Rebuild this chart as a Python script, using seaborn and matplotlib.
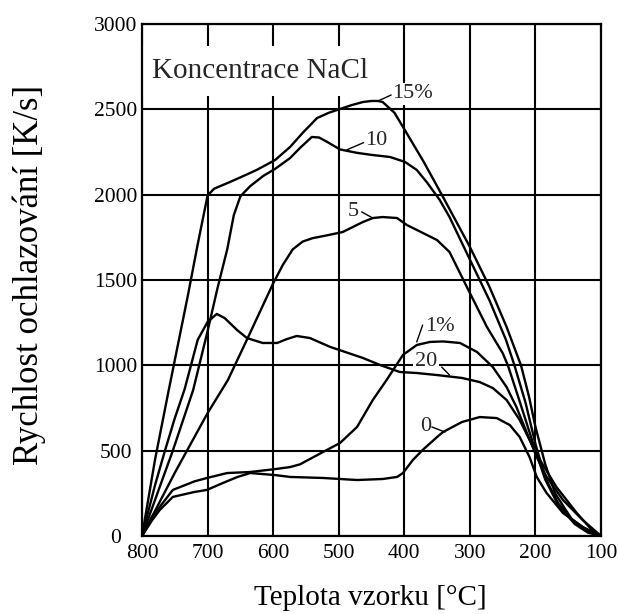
import numpy as np
import pandas as pd
import matplotlib
matplotlib.use("Agg")
import matplotlib.pyplot as plt
import seaborn as sns

# Cooling rate vs. specimen temperature for quenching in NaCl brines
t_15 = [800, 780, 760, 730, 715, 700, 690, 666, 645, 625, 597, 574, 555, 533, 515, 498,
        480, 463, 450, 440, 433, 415, 402, 370, 341, 300, 270, 244, 222, 210, 200, 185,
        170, 145, 120, 100]
v_15 = [0, 450, 840, 1410, 1710, 1995, 2035, 2074, 2110, 2145, 2203, 2280, 2362, 2449, 2480, 2502,
        2525, 2543, 2549, 2549, 2543, 2480, 2397, 2190, 1987, 1694, 1459, 1225, 1000, 820, 640, 420,
        250, 100, 30, 0]

t_10 = [800, 775, 753, 722, 700, 685, 670, 660, 650, 635, 615, 597, 574, 559, 541, 530,
        518, 498, 472, 450, 422, 399, 381, 365, 346, 331, 300, 270, 245, 232, 215, 200,
        185, 165, 140, 120, 100]
v_10 = [0, 266, 500, 855, 1200, 1450, 1680, 1880, 1990, 2050, 2110, 2151, 2215, 2274, 2338, 2335,
        2310, 2265, 2245, 2233, 2221, 2192, 2145, 2070, 1969, 1869, 1620, 1380, 1150, 1000, 780, 540,
        340, 190, 80, 25, 0]

t_5 = [800, 750, 700, 669, 640, 600, 585, 570, 555, 540, 520, 494, 463, 448, 433, 411,
       396, 387, 350, 331, 300, 274, 250, 242, 225, 210, 200, 185, 165, 140, 120, 100]
v_5 = [0, 370, 720, 914, 1150, 1480, 1590, 1680, 1725, 1745, 1760, 1781, 1840, 1863, 1869, 1863,
       1822, 1805, 1734, 1664, 1424, 1225, 1072, 1000, 800, 620, 500, 330, 180, 70, 20, 0]

t_20 = [800, 790, 780, 765, 750, 735, 715, 700, 686, 674, 655, 640, 616, 594, 579, 564,
        544, 513, 480, 463, 437, 407, 381, 350, 312, 285, 265, 244, 224, 209, 193, 168,
        137, 115, 100]
v_20 = [0, 150, 300, 500, 690, 860, 1150, 1254, 1301, 1277, 1207, 1160, 1131, 1131, 1154, 1172,
        1160, 1108, 1065, 1043, 1002, 961, 955, 943, 926, 902, 867, 797, 680, 563, 445, 287,
        135, 40, 0]

t_1 = [800, 785, 773, 753, 720, 701, 670, 635, 597, 574, 559, 524, 498, 472, 448, 427,
       402, 381, 361, 341, 315, 289, 265, 244, 229, 213, 198, 183, 158, 128, 100]
v_1 = [0, 110, 170, 270, 320, 340, 369, 375, 392, 404, 420, 492, 545, 639, 797, 914,
       1061, 1119, 1137, 1140, 1131, 1078, 990, 873, 756, 604, 463, 346, 211, 94, 0]

t_0 = [800, 785, 773, 753, 720, 701, 677, 655, 635, 597, 574, 524, 472, 433, 411, 402,
       387, 372, 350, 341, 312, 285, 259, 239, 224, 209, 198, 183, 158, 128, 100]
v_0 = [0, 90, 152, 229, 258, 270, 310, 345, 369, 357, 346, 340, 328, 334, 346, 369,
       445, 504, 580, 609, 668, 697, 691, 650, 580, 463, 346, 252, 135, 53, 0]

series = {"15%": (t_15, v_15), "10": (t_10, v_10), "5": (t_5, v_5),
          "20": (t_20, v_20), "1%": (t_1, v_1), "0": (t_0, v_0)}

x_ticks = [800, 700, 600, 500, 400, 300, 200, 100]
y_ticks = [0, 500, 1000, 1500, 2000, 2500, 3000]

# label text, text anchor (T, v), leader start on curve, leader end at label
labels = [
    ("15%", (419, 2590), (440, 2549), (420, 2584)),
    ("10", (460, 2320), (488, 2262), (462, 2305)),
    ("5", (486, 1904), (448, 1863), (465, 1899)),
    ("1%", (369, 1225), (381, 1137), (372, 1236)),
    ("20", (384, 1025), (331, 943), (343, 990)),
    ("0", (376, 639), (338, 609), (358, 639)),
]

frames = []
for name, (t, v) in series.items():
    frames.append(pd.DataFrame({"teplota": t, "rychlost": v, "roztok": name}))
df = pd.concat(frames, ignore_index=True)

sns.set_theme(style="white")
plt.rcParams["font.family"] = ["Liberation Serif", "DejaVu Serif"]
plt.rcParams["axes.axisbelow"] = True

fig = plt.figure(figsize=(6.18, 6.14), dpi=100)
ax = fig.add_axes([142 / 618, 1 - 536 / 614, (601 - 142) / 618, (536 - 24) / 614])

sns.lineplot(data=df, x="teplota", y="rychlost", units="roztok", estimator=None,
             sort=False, color="black", linewidth=1.7, ax=ax, zorder=3)

ax.set_xlim(800, 100)
ax.set_ylim(0, 3000)
ax.set_xticks(x_ticks)
ax.set_yticks(y_ticks)
ax.grid(True, color="black", linewidth=1.5)
for s in ax.spines.values():
    s.set_color("black")
    s.set_linewidth(1.6)
    s.set_zorder(4)
ax.tick_params(axis="x", length=0, labelsize=15.5, colors="black", pad=6)
ax.tick_params(axis="y", length=0, labelsize=15.5, colors="black", pad=19)
for lab in ax.get_yticklabels():
    lab.set_horizontalalignment("center")
    lab.set_verticalalignment("center_baseline")

ax.set_xlabel("Teplota vzorku [°C]", fontsize=21, color="black")
ax.set_ylabel("Rychlost ochlazování [K/s]", fontsize=25, color="black")
ax.xaxis.set_label_coords(0.497, -0.095)
ax.yaxis.set_label_coords(-0.21, 0.51)

ax.text(785, 2725, "Koncentrace NaCl", fontsize=21, ha="left", va="center", zorder=2.4,
        bbox=dict(facecolor="white", edgecolor="none", boxstyle="square,pad=0.4"))

for text, (tx, ty), p0, p1 in labels:
    ax.plot([p0[0], p1[0]], [p0[1], p1[1]], color="black", linewidth=1.0, zorder=3)
    ax.text(tx, ty, text, fontsize=16, ha="left", va="center", zorder=2.6,
            bbox=dict(facecolor="white", edgecolor="none", boxstyle="square,pad=0.08"))

fig.savefig("out.png", dpi=100)
